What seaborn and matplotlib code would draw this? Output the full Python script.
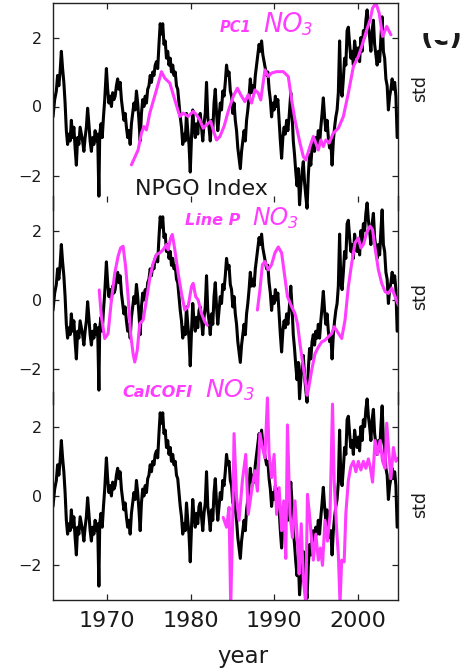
import matplotlib
matplotlib.use("Agg")
import matplotlib.pyplot as plt
import seaborn as sns
import pandas as pd
from matplotlib.patches import Rectangle

# ---------------- data ----------------
npgo_year = [
    1963.50, 1963.70, 1963.90, 1964.05, 1964.20, 1964.35, 1964.50, 1964.65, 1964.80, 1964.95,
    1965.10, 1965.25, 1965.40, 1965.55, 1965.70, 1965.85, 1966.00, 1966.15, 1966.30, 1966.45,
    1966.60, 1966.75, 1966.90, 1967.05, 1967.20, 1967.35, 1967.50, 1967.65, 1967.80, 1967.95,
    1968.10, 1968.25, 1968.40, 1968.55, 1968.70, 1968.85, 1969.00, 1969.10, 1969.25, 1969.40,
    1969.55, 1969.70, 1969.90, 1970.05, 1970.20, 1970.35, 1970.50, 1970.65, 1970.80, 1970.95,
    1971.10, 1971.25, 1971.40, 1971.55, 1971.70, 1971.85, 1972.00, 1972.15, 1972.30, 1972.45,
    1972.60, 1972.75, 1972.90, 1973.05, 1973.20, 1973.35, 1973.50, 1973.65, 1973.80, 1973.95,
    1974.10, 1974.25, 1974.40, 1974.55, 1974.70, 1974.85, 1975.00, 1975.15, 1975.30, 1975.45,
    1975.60, 1975.75, 1975.90, 1976.05, 1976.20, 1976.35, 1976.50, 1976.65, 1976.80, 1976.95,
    1977.10, 1977.25, 1977.40, 1977.55, 1977.70, 1977.85, 1978.00, 1978.15, 1978.30, 1978.45,
    1978.60, 1978.75, 1978.90, 1979.05, 1979.20, 1979.35, 1979.50, 1979.65, 1979.80, 1979.95,
    1980.10, 1980.25, 1980.40, 1980.55, 1980.70, 1980.85, 1981.00, 1981.15, 1981.30, 1981.45,
    1981.60, 1981.75, 1981.90, 1982.05, 1982.20, 1982.35, 1982.50, 1982.65, 1982.80, 1982.95,
    1983.10, 1983.25, 1983.40, 1983.55, 1983.70, 1983.85, 1984.00, 1984.15, 1984.30, 1984.45,
    1984.60, 1984.75, 1984.90, 1985.05, 1985.20, 1985.35, 1985.50, 1985.65, 1985.80, 1985.95,
    1986.10, 1986.25, 1986.40, 1986.55, 1986.70, 1986.85, 1987.00, 1987.15, 1987.30, 1987.45,
    1987.60, 1987.75, 1987.90, 1988.05, 1988.20, 1988.35, 1988.50, 1988.65, 1988.80, 1988.95,
    1989.10, 1989.25, 1989.40, 1989.55, 1989.70, 1989.85, 1990.00, 1990.15, 1990.30, 1990.45,
    1990.60, 1990.75, 1990.90, 1991.05, 1991.20, 1991.35, 1991.50, 1991.65, 1991.80, 1992.00,
    1992.15, 1992.30, 1992.45, 1992.60, 1992.75, 1992.90, 1993.05, 1993.20, 1993.35, 1993.50,
    1993.65, 1993.80, 1993.95, 1994.10, 1994.25, 1994.40, 1994.55, 1994.70, 1994.85, 1995.00,
    1995.15, 1995.30, 1995.45, 1995.60, 1995.75, 1995.90, 1996.05, 1996.20, 1996.35, 1996.50,
    1996.65, 1996.80, 1996.95, 1997.10, 1997.25, 1997.40, 1997.55, 1997.70, 1997.85, 1998.00,
    1998.15, 1998.30, 1998.45, 1998.60, 1998.75, 1998.90, 1999.05, 1999.20, 1999.35, 1999.50,
    1999.65, 1999.80, 1999.95, 2000.10, 2000.25, 2000.40, 2000.55, 2000.70, 2000.85, 2001.00,
    2001.15, 2001.30, 2001.45, 2001.60, 2001.75, 2001.90, 2002.05, 2002.20, 2002.35, 2002.50,
    2002.65, 2002.80, 2002.95, 2003.10, 2003.25, 2003.40, 2003.55, 2003.70, 2003.85, 2004.00,
    2004.15, 2004.30, 2004.45, 2004.60, 2004.75,
]
npgo_value = [
    -0.3, 0.2, 0.45, 0.9, 0.6, 1.0, 1.6, 1.1, 0.7, 0.1,
    -0.7, -1.1, -0.8, -1.0, -0.4, -0.9, -0.6, -1.2, -1.7, -0.9,
    -1.1, -0.6, -0.8, -1.0, -1.3, -0.9, -0.6, -0.05, -0.5, -1.0,
    -1.3, -0.9, -1.1, -0.7, -1.0, -0.8, -2.6, -0.8, -0.5, -0.9,
    -0.3, 0.2, 1.1, 0.5, 0.1, 0.3, 0.0, 0.4, 0.2, 0.3,
    0.6, 0.8, 0.5, 0.7, 0.2, -0.1, -0.4, -0.2, -0.6, -0.9,
    -0.7, -1.1, -0.5, -0.2, 0.1, -0.1, 0.45, 0.1, -0.4, -1.0,
    -0.2, 0.2, 0.0, 0.3, 0.1, 0.5, 0.6, 0.9, 0.7, 1.0,
    0.9, 1.2, 1.3, 1.1, 1.8, 2.4, 2.1, 2.4, 1.8, 1.9,
    1.4, 1.6, 1.2, 1.4, 1.0, 1.2, 0.9, 1.0, 0.6, 0.5,
    0.1, -0.3, -0.6, -1.1, -0.8, -1.0, -0.2, -0.7, -1.1, -1.9,
    -0.9, -0.1, -0.6, -0.9, -0.5, -0.8, -0.3, -0.2, -0.6, -1.0,
    -0.5, -0.2, 0.7, -0.3, -0.6, -1.0, -0.4, -0.7, 0.1, 0.5,
    -0.2, -0.7, -0.3, 0.1, -0.1, 0.45, 0.3, 0.7, 1.2, 0.9,
    1.0, 0.45, 0.3, -0.2, 0.1, -0.4, -0.7, -1.2, -1.5, -1.8,
    -1.3, -1.0, -0.7, -1.0, -0.4, -0.1, 0.3, 0.8, 0.4, 0.6,
    0.4, 0.9, 1.2, 1.5, 1.8, 1.6, 1.9, 1.5, 1.3, 1.1,
    0.9, 1.0, 0.5, 0.2, -0.3, 0.1, -0.1, 0.3, 0.0, 0.2,
    -0.4, -1.0, -1.5, -0.9, -0.6, -0.8, -0.4, -0.7, -0.3, 0.4,
    -0.2, -1.0, -1.4, -1.9, -2.3, -1.8, -2.85, -2.3, -1.9, -1.6,
    -2.2, -2.6, -2.95, -2.0, -1.4, -1.7, -1.2, -1.0, -1.3, -0.9,
    -1.1, -0.7, -1.1, -0.6, -0.2, 0.25, -0.3, -0.7, -0.4, -0.9,
    -1.2, -1.0, -1.7, -1.0, -0.6, -0.3, -0.1, 0.4, 1.9, 0.5,
    0.3, 0.8, 1.4, 1.2, 2.2, 2.3, 1.8, 1.4, 1.6, 1.2,
    1.9, 1.6, 1.4, 1.7, 1.3, 2.0, 1.6, 2.2, 2.0, 2.5,
    2.8, 2.3, 2.0, 1.6, 2.2, 2.5, 1.8, 1.5, 1.2, 1.6,
    1.3, 2.0, 2.6, 1.6, 1.4, 0.8, 0.6, -0.1, 0.3, 0.5,
    0.8, 0.5, 0.7, 0.3, -0.9,
]

pc1_year = [1972.9, 1973.7, 1974.1, 1974.4, 1974.7, 1975.1, 1975.9, 1976.5, 1976.9, 1977.5,
            1978.1, 1978.7, 1979.1, 1979.7, 1980.3, 1980.7, 1981.1, 1981.5, 1981.9, 1982.4,
            1982.7, 1983.1, 1983.5, 1984.0, 1984.5, 1985.1, 1985.6, 1986.0, 1986.5, 1986.9,
            1987.3, 1987.7, 1988.1, 1988.4, 1988.9, 1989.3, 1989.7, 1990.3, 1991.1, 1991.7,
            1992.1, 1992.5, 1993.1, 1993.5, 1993.8, 1994.3, 1994.7, 1995.0, 1995.3, 1995.6,
            1995.9, 1996.2, 1996.6, 1997.1, 1997.7, 1998.3, 1998.9, 1999.5, 2000.1, 2000.5,
            2001.1, 2001.5, 2001.8, 2002.2, 2002.6, 2003.0, 2003.5, 2004.0]
pc1_value = [-1.69, -1.26, -0.77, -0.58, -0.68, -0.19, 0.48, 1.01, 0.82, 0.68,
             0.19, -0.29, -0.19, -0.29, -0.14, -0.24, -0.39, -0.63, -0.53, -0.43,
             -0.68, -0.97, -0.87, -0.58, -0.14, 0.29, 0.53, 0.34, 0.14, 0.34,
             0.10, 0.48, 0.39, 0.19, 1.06, 0.87, 0.97, 1.01, 1.01, 0.87,
             0.19, -0.39, -1.06, -1.45, -1.55, -1.16, -0.87, -1.06, -1.26, -0.97,
             -1.16, -0.97, -1.06, -0.77, -0.63, -0.29, 0.39, 1.16, 1.45, 1.74,
             2.22, 2.51, 2.85, 3.0, 2.7, 2.03, 2.32, 2.08]

linep1_year = [1969.04, 1969.3, 1969.7, 1970.1, 1970.5, 1970.9, 1971.3, 1971.6, 1971.9, 1972.2,
               1972.5, 1972.8, 1973.1, 1973.3, 1973.6, 1973.9, 1974.3, 1974.7, 1975.1, 1975.5,
               1975.9, 1976.3, 1976.7, 1977.1, 1977.3, 1977.6, 1977.8, 1978.1, 1978.5, 1978.9,
               1979.3, 1979.7, 1980.1, 1980.3, 1980.6, 1980.9, 1981.3, 1981.7, 1982.0]
linep1_value = [0.29, -0.48, -1.11, -0.97, 0.0, 0.77, 1.26, 1.5, 1.55, 0.97,
                0.10, -0.97, -1.55, -1.79, -1.45, -0.68, -0.58, 0.0, 0.63, 1.06,
                1.31, 1.36, 1.45, 1.6, 1.45, 1.79, 1.89, 1.45, 0.77, 0.19,
                -0.29, -0.19, 0.39, 0.48, 0.10, 0.0, -0.39, -0.63, -0.73]
linep2_year = [1988.0, 1988.3, 1988.6, 1988.9, 1989.3, 1989.7, 1990.1, 1990.5, 1990.9, 1991.2,
               1991.6, 1992.1, 1992.5, 1992.8, 1993.1, 1993.5, 1993.8, 1993.95, 1994.1, 1994.5,
               1994.9, 1995.3, 1995.7, 1996.1, 1996.5, 1996.9, 1997.2, 1997.6, 1998.1, 1998.5,
               1998.9, 1999.3, 1999.7, 2000.1, 2000.4, 2000.7, 2001.1, 2001.5, 2001.8, 2002.1,
               2002.5, 2002.9, 2003.3, 2003.7, 2004.1, 2004.5, 2004.9]
linep2_value = [-0.29, 0.29, 1.02, 1.11, 0.87, 1.02, 1.36, 1.53, 1.36, 0.82,
                0.10, -0.19, -0.39, -0.68, -1.26, -1.94, -2.42, -2.75, -2.6, -2.03,
                -1.55, -1.36, -1.21, -1.16, -1.06, -0.97, -0.77, -0.92, -1.11, -0.58,
                0.39, 1.06, 1.65, 1.79, 1.5, 1.6, 1.94, 2.13, 2.03, 1.5,
                0.87, 0.48, 0.24, 0.19, 0.34, 0.10, -0.15]

calcofi_year = [1983.9, 1984.3, 1984.6, 1984.8, 1985.05, 1985.2, 1985.5, 1985.8, 1986.2, 1986.6,
                1986.9, 1987.3, 1987.7, 1988.0, 1988.3, 1988.6, 1988.9, 1989.2, 1989.4, 1989.7,
                1990.0, 1990.3, 1990.6, 1990.9, 1991.15, 1991.4, 1991.6, 1991.9, 1992.2, 1992.5,
                1992.8, 1993.0, 1993.25, 1993.5, 1993.8, 1994.0, 1994.3, 1994.7, 1995.0, 1995.3,
                1995.55, 1995.8, 1996.1, 1996.4, 1996.7, 1997.0, 1997.2, 1997.5, 1997.7, 1997.9,
                1998.1, 1998.4, 1998.6, 1998.9, 1999.2, 1999.5, 1999.8, 2000.1, 2000.4, 2000.7,
                2001.0, 2001.3, 2001.55, 2001.8, 2002.1, 2002.4, 2002.7, 2003.0, 2003.3, 2003.5,
                2003.75, 2004.0, 2004.3, 2004.6, 2004.9]
calcofi_value = [-0.62, -0.9, -0.33, -3.2, -0.53, 1.8, -0.04, -0.7, 0.45, 1.2,
                 -0.53, 0.14, 0.73, 0.14, 1.8, 1.4, 1.1, 2.83, 1.2, 0.53,
                 1.2, -0.53, 0.24, -1.0, -0.14, -1.8, 2.05, -0.53, -1.2, -0.14,
                 -1.3, -2.25, -0.8, -2.4, -3.1, 0.05, -0.7, -1.85, -1.1, -1.85,
                 -1.5, -2.0, -0.7, -1.3, -0.55, 2.65, 0.45, -1.0, -1.7, -3.1,
                 -1.85, -1.9, -0.5, 0.45, 0.85, 1.0, 0.7, 1.0, 0.75, 1.0,
                 0.8, 1.07, 0.8, 0.4, 1.6, 1.2, 1.6, 1.0, 0.8, 2.1,
                 1.27, 0.5, 1.4, 1.0, 1.1]

year_ticks = [1970, 1980, 1990, 2000]
std_ticks = [-2, 0, 2]

# ---------------- style ----------------
sns.set_theme(style="white")
plt.rcParams['font.family'] = ['DejaVu Sans']

W, H = 462, 670
fig = plt.figure(figsize=(W / 100, H / 100), dpi=100)
fig.patch.set_facecolor('white')

MAG = '#ff3cff'
TXT = '#1a1a1a'

def rect(top_px, bot_px, left_px=53, right_px=398):
    return [left_px / W, 1 - bot_px / H, (right_px - left_px) / W, (bot_px - top_px) / H]

panel_px = [(3, 210), (196, 404), (392, 600)]
axes = []
for i, (t, b) in enumerate(panel_px):
    ax = fig.add_axes(rect(t, b))
    ax.patch.set_alpha(0)
    axes.append(ax)

npgo_df = pd.DataFrame({'year': npgo_year, 'std': npgo_value})
pc1_df = pd.DataFrame({'year': pc1_year, 'std': pc1_value})
linep_df = pd.concat([
    pd.DataFrame({'year': linep1_year, 'std': linep1_value, 'seg': 1}),
    pd.DataFrame({'year': linep2_year, 'std': linep2_value, 'seg': 2}),
])
calcofi_df = pd.DataFrame({'year': calcofi_year, 'std': calcofi_value})

for ax in axes:
    sns.lineplot(data=npgo_df, x='year', y='std', ax=ax, color='black',
                 linewidth=2.2, estimator=None, sort=False)

sns.lineplot(data=pc1_df, x='year', y='std', ax=axes[0], color=MAG,
             linewidth=2.2, estimator=None, sort=False)
sns.lineplot(data=linep_df, x='year', y='std', units='seg', ax=axes[1], color=MAG,
             linewidth=2.2, estimator=None, sort=False)
sns.lineplot(data=calcofi_df, x='year', y='std', ax=axes[2], color=MAG,
             linewidth=2.2, estimator=None, sort=False)

for i, ax in enumerate(axes):
    ax.set_xlim(1963.5, 2004.85)
    ax.set_ylim(-3, 3)
    ax.set_xticks(year_ticks)
    ax.set_yticks(std_ticks)
    ax.set_xlabel('')
    ax.set_ylabel('')
    for s in ax.spines.values():
        s.set_color('#222222')
        s.set_linewidth(1.0)
    ax.spines['top'].set_visible(i == 0)
    ax.spines['bottom'].set_visible(i == 2)
    ax.tick_params(axis='y', direction='in', length=4, width=0.9, left=True, right=True,
                   labelsize=11.5, labelcolor=TXT, pad=8, color='#222222')
    ax.tick_params(axis='x', direction='in', length=4, width=0.9, top=(i < 2), bottom=(i == 2),
                   labelbottom=(i == 2), labelsize=16, labelcolor=TXT, pad=8, color='#222222')

def ftext(px, py, s, **kw):
    return fig.text(px / W, 1 - py / H, s, **kw)

# panel labels
ftext(220, 32.5, 'PC1', color=MAG, fontsize=10.5, style='italic', weight='bold', va='baseline')
ftext(263, 32.5, 'NO', color=MAG, fontsize=18.5, style='italic', va='baseline')
ftext(302, 35, '3', color=MAG, fontsize=12, style='italic', va='baseline')

ftext(135, 195, 'NPGO Index', color=TXT, fontsize=16, va='baseline')

ftext(185, 225, 'Line P', color=MAG, fontsize=11.5, style='italic', weight='bold', va='baseline')
ftext(252, 225, 'NO', color=MAG, fontsize=17, style='italic', va='baseline')
ftext(288, 228, '3', color=MAG, fontsize=11.5, style='italic', va='baseline')

ftext(122, 397, 'CalCOFI', color=MAG, fontsize=11.5, style='italic', weight='bold', va='baseline')
ftext(205, 397, 'NO', color=MAG, fontsize=18, style='italic', va='baseline')
ftext(244, 400.5, '3', color=MAG, fontsize=12, style='italic', va='baseline')

for cy in (89, 297, 505):
    ftext(420, cy, 'std', color=TXT, fontsize=12.5, rotation=90, ha='center', va='center')

ftext(243, 657, 'year', color=TXT, fontsize=16.5, ha='center', va='center')

# partially cut "(c)" panel tag at the top right: only its lower part shows
tag_ax = fig.add_axes(rect(0, 60, 405, 462))
tag_ax.set_xlim(405, 462)
tag_ax.set_ylim(60, 0)
tag_ax.axis('off')
tag_ax.text(421, 45, '(c)', color=TXT, fontsize=20, weight='bold', va='baseline',
            zorder=3, clip_on=False)
tag_ax.add_patch(Rectangle((405, 0), 57, 33, facecolor='white', edgecolor='none',
                           zorder=10, clip_on=False))
tag_ax.add_patch(Rectangle((434, 0), 15, 40, facecolor='white', edgecolor='none',
                           zorder=10, clip_on=False))

fig.savefig('out.png', dpi=100, facecolor='white')
